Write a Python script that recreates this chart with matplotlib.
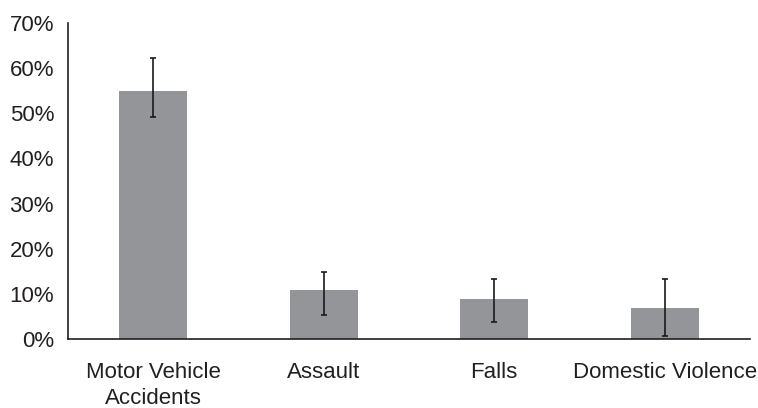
import matplotlib
matplotlib.use("Agg")
import matplotlib.pyplot as plt
import numpy as np

categories = ["Motor Vehicle\nAccidents", "Assault", "Falls", "Domestic Violence"]
values = [55.0, 11.0, 9.0, 7.0]
err_low = [49.2, 5.4, 3.9, 0.7]
err_high = [62.3, 14.9, 13.3, 13.3]
yticks = [0, 10, 20, 30, 40, 50, 60, 70]

plt.rcParams["font.family"] = ["Liberation Sans", "DejaVu Sans"]

fig = plt.figure(figsize=(7.58, 4.08), dpi=100)
ax = fig.add_axes([0.0897, 0.1684, 0.8997, 0.776])

x = np.arange(len(categories))
vals = np.array(values)
yerr = np.vstack([vals - np.array(err_low), np.array(err_high) - vals])

ax.bar(x, vals, width=0.4, color="#939598", zorder=2)
ax.errorbar(x, vals, yerr=yerr, fmt="none", ecolor="#1a1a1a",
            elinewidth=1.2, capsize=2.5, capthick=1.2, zorder=3)

ax.set_xlim(-0.5, len(categories) - 0.5)
ax.set_ylim(0, 70)
ax.set_yticks(yticks)
ax.set_yticklabels([f"{t}%" for t in yticks], fontsize=16, color="#231f20")
ax.set_xticks(x)
ax.set_xticklabels(categories, fontsize=16, color="#231f20", linespacing=1.35)
ax.tick_params(axis="both", length=0)
ax.tick_params(axis="y", pad=10)
ax.tick_params(axis="x", pad=16)

for side in ["top", "right"]:
    ax.spines[side].set_visible(False)
for side in ["left", "bottom"]:
    ax.spines[side].set_color("#231f20")
    ax.spines[side].set_linewidth(1.2)

fig.savefig("out.png", dpi=100)
